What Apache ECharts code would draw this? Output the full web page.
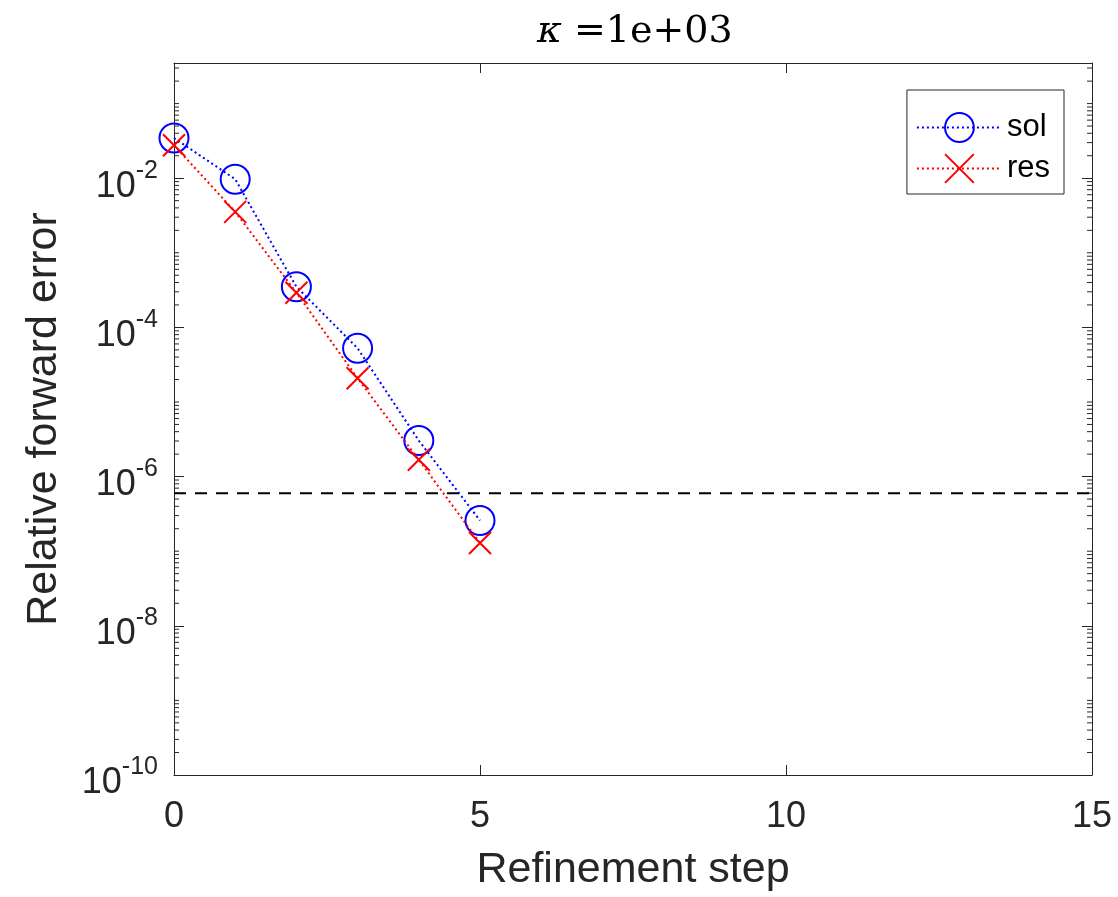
<!DOCTYPE html>
<html><head><meta charset="utf-8">
<script src="https://cdn.jsdelivr.net/npm/echarts@6/dist/echarts.min.js"></script>
<style>html,body{margin:0;padding:0;background:#fff}#c{width:1118px;height:897px}</style>
</head><body><div id="c"></div>
<script>
// ---- data ----
const steps = [0, 1, 2, 3, 4, 5];
const solErr = [0.0346, 0.0097, 3.5e-4, 5.25e-5, 3.04e-6, 2.58e-7];
const resErr = [0.0277, 3.54e-3, 2.92e-4, 2.08e-5, 1.68e-6, 1.29e-7];
const threshold = 5.96e-7;
const thresholdSpan = [0, 15];
const xTickValues = [0, 5, 10, 15];
const yTickValues = [1e-10, 1e-8, 1e-6, 1e-4, 1e-2];
const yMin = 1e-10, yMax = 0.35;
const minorMultipliers = [2, 3, 4, 5, 6, 7, 8, 9];
const minorDecades = [-10, -9, -8, -7, -6, -5, -4, -3, -2, -1];
const oddDecades = [-9, -7, -5, -3, -1];

const F = 'Liberation Sans, Arial, Helvetica, sans-serif';
const INK = '#262626';

const minorTicks = [];
minorDecades.forEach(k => minorMultipliers.forEach(m => { const v = m * Math.pow(10, k); if (v < yMax) minorTicks.push(v); }));
oddDecades.forEach(k => minorTicks.push(Math.pow(10, k)));

const chart = echarts.init(document.getElementById('c'), null, {renderer: 'canvas'});
const yLabelFmt = v => {
  const e = Math.log10(v); const r = Math.round(e);
  if (Math.abs(e - r) > 1e-6) return '';
  return '{b|10}{s|' + r + '}';
};
const option = {
  backgroundColor: '#fff',
  animation: false,
  title: {
    text: '{k|κ} =1e+03',
    left: 537, top: 13,
    padding: 0,
    textStyle: {
      fontFamily: 'DejaVu Serif', fontSize: 38, color: '#000', fontWeight: 'normal',
      rich: { k: { fontFamily: 'DejaVu Serif', fontSize: 38, fontStyle: 'italic', color: '#000' } }
    }
  },
  grid: { left: 174, right: 26, top: 63, bottom: 122, containLabel: false, outerBoundsMode: 'none' },
  legend: {
    data: ['sol', 'res'],
    orient: 'vertical',
    right: 54, top: 90,
    padding: [22, 14, 10, 9],
    itemGap: 10,
    itemWidth: 85, itemHeight: 36,
    borderColor: INK, borderWidth: 1,
    backgroundColor: '#fff',
    textStyle: { fontFamily: F, fontSize: 31, color: '#000', lineHeight: 30 }
  },
  xAxis: [{
    type: 'value', min: 0, max: 15, interval: 5,
    name: 'Refinement step', nameLocation: 'middle', nameGap: 74,
    nameTextStyle: { fontFamily: F, fontSize: 43, color: INK },
    axisLine: { show: true, onZero: false, lineStyle: { color: INK, width: 1 } },
    axisTick: { show: true, inside: true, length: 10, lineStyle: { color: INK } },
    axisLabel: { fontFamily: F, fontSize: 36, color: INK, margin: 24 },
    splitLine: { show: false }
  }, {
    type: 'value', min: 0, max: 15, interval: 5, position: 'top',
    axisLine: { show: true, onZero: false, lineStyle: { color: INK, width: 1 } },
    axisTick: { show: true, inside: true, length: 10, lineStyle: { color: INK } },
    axisLabel: { show: false }, splitLine: { show: false }
  }],
  yAxis: [{
    type: 'log', logBase: 10, min: yMin, max: yMax, interval: 2,
    name: 'Relative forward error', nameLocation: 'middle', nameGap: 108,
    nameTextStyle: { fontFamily: F, fontSize: 43, color: INK },
    axisLine: { show: true, onZero: false, lineStyle: { color: INK, width: 1 } },
    axisTick: { show: true, inside: true, length: 10, customValues: yTickValues, lineStyle: { color: INK } },
    axisLabel: {
      formatter: yLabelFmt, margin: 16, customValues: yTickValues,
      rich: {
        b: { fontFamily: F, fontSize: 36, color: INK, padding: [17, 0, 0, 0] },
        s: { fontFamily: F, fontSize: 25, color: INK, padding: [0, 0, 15, 0] }
      }
    },
    splitLine: { show: false }
  }, {
    type: 'log', logBase: 10, min: yMin, max: yMax, interval: 2, position: 'right',
    axisLine: { show: true, onZero: false, lineStyle: { color: INK, width: 1 } },
    axisTick: { show: true, inside: true, length: 10, customValues: yTickValues, lineStyle: { color: INK } },
    axisLabel: { show: false }, splitLine: { show: false }
  }],
  series: [
    {
      type: 'custom', coordinateSystem: 'cartesian2d', silent: true, clip: false,
      data: minorTicks.map(v => [0, v]),
      encode: { x: 0, y: 1 },
      renderItem: (params, api) => {
        const cs = params.coordSys;
        const y = api.coord([0, api.value(1)])[1];
        const style = { stroke: INK, lineWidth: 1 };
        return { type: 'group', children: [
          { type: 'line', shape: { x1: cs.x, y1: y, x2: cs.x + 5, y2: y }, style },
          { type: 'line', shape: { x1: cs.x + cs.width - 5, y1: y, x2: cs.x + cs.width, y2: y }, style }
        ]};
      }
    },
    {
      name: 'threshold', type: 'line', silent: true,
      data: thresholdSpan.map(x => [x, threshold]),
      symbol: 'none',
      lineStyle: { color: '#000', width: 2, type: [12, 9] },
      z: 2
    },
    {
      name: 'sol', type: 'line',
      data: steps.map((s, i) => [s, solErr[i]]),
      symbol: 'circle', symbolSize: 29,
      itemStyle: { color: 'rgba(0,0,0,0)', borderColor: '#0000ff', borderWidth: 2 },
      lineStyle: { color: '#0000ff', width: 2, type: [2, 3] },
      z: 3
    },
    {
      name: 'res', type: 'line',
      data: steps.map((s, i) => [s, resErr[i]]),
      symbol: 'path://M0,0L10,10M10,0L0,10', symbolSize: 22,
      itemStyle: { color: 'rgba(0,0,0,0)', borderColor: '#ff0000', borderWidth: 2 },
      lineStyle: { color: '#ff0000', width: 2, type: [2, 3] },
      z: 4
    }
  ]
};
chart.setOption(option);
</script>
</body></html>
